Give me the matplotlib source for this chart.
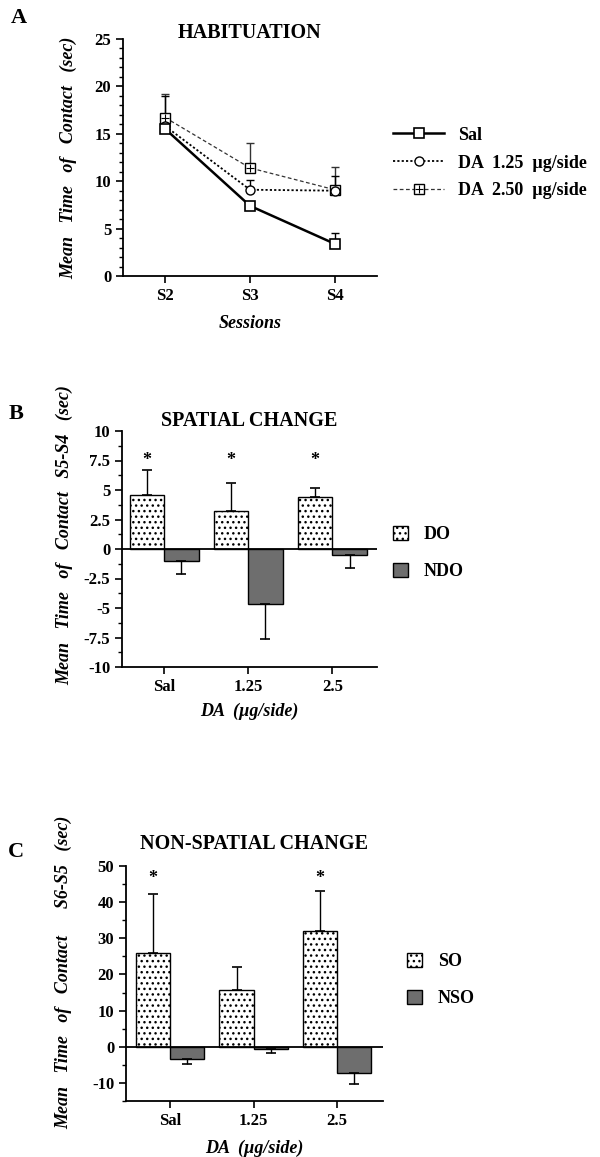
import numpy as np
import matplotlib
matplotlib.use("Agg")
import matplotlib.pyplot as plt
from matplotlib.patches import Patch
from matplotlib.legend_handler import HandlerTuple
from matplotlib.ticker import MultipleLocator, FuncFormatter

plt.rcParams['font.family'] = ['Liberation Serif', 'DejaVu Serif']
plt.rcParams['font.weight'] = 'bold'
plt.rcParams['hatch.linewidth'] = 1.0
plt.rcParams['axes.unicode_minus'] = False

# --- Panel A: habituation ---
sessions = ["S2", "S3", "S4"]
sal_mean = [15.5, 7.4, 3.4]
sal_err = [0.0, 0.0, 1.1]
da125_mean = [15.8, 9.1, 9.0]
da125_err = [3.2, 1.0, 1.6]
da250_mean = [16.7, 11.4, 9.1]
da250_err = [2.5, 2.6, 2.4]

# --- Panel B: spatial change (S5-S4) ---
doses = ["Sal", "1.25", "2.5"]
do_mean = [4.6, 3.2, 4.4]
do_err = [2.1, 2.4, 0.8]
ndo_mean = [-1.0, -4.7, -0.5]
ndo_err = [1.1, 2.9, 1.1]
b_stars = [True, True, True]

# --- Panel C: non-spatial change (S6-S5) ---
so_mean = [26.0, 15.8, 32.0]
so_err = [16.2, 6.4, 11.2]
nso_mean = [-3.5, -0.6, -7.3]
nso_err = [1.3, 1.0, 3.0]
c_stars = [True, False, True]

W, H = 600, 1157
fig = plt.figure(figsize=(W / 100, H / 100), dpi=100)

def fx(px):
    return px / W

def fy(py):
    return 1 - py / H

tick_fs = 12
lab_fs = 13
title_fs = 14.5
leg_fs = 13
dark = '#6e6e6e'

def style_axes(ax):
    ax.spines['top'].set_visible(False)
    ax.spines['right'].set_visible(False)
    for s in ['left', 'bottom']:
        ax.spines[s].set_linewidth(1.3)
    ax.tick_params(direction='out', length=5, width=1.2, labelsize=tick_fs)
    ax.tick_params(which='minor', direction='out', length=3, width=1.0)
    for lab in ax.get_xticklabels() + ax.get_yticklabels():
        lab.set_fontweight('bold')

# ---------------- Panel A ----------------
axA = fig.add_axes([fx(123), fy(276), fx(254), 237 / H])
x = np.arange(1, len(sessions) + 1)
ms = 6.5
axA.errorbar(x, da250_mean, yerr=[np.zeros(3), da250_err], color='#333333',
             ls='none', capsize=3, elinewidth=1.0, capthick=1.0, zorder=2)
axA.errorbar(x, da125_mean, yerr=[np.zeros(3), da125_err], color='black',
             ls='none', capsize=3, elinewidth=1.0, capthick=1.0, zorder=2)
axA.errorbar(x, sal_mean, yerr=[np.zeros(3), sal_err], color='black',
             ls='none', capsize=3, elinewidth=1.0, capthick=1.0, zorder=2)
l3, = axA.plot(x, da250_mean, color='#333333', ls=(0, (3, 2)), lw=0.9,
               marker='s', ms=ms, mfc='white', mec='black', mew=1.0, zorder=3)
l3p, = axA.plot(x, da250_mean, ls='none', marker='+', ms=ms - 0.5,
                mec='black', mew=0.8, zorder=4)
l2, = axA.plot(x, da125_mean, color='black', ls=(0, (1.2, 1.2)), lw=1.3,
               marker='o', ms=ms, mfc='white', mec='black', mew=1.0, zorder=5)
l1, = axA.plot(x, sal_mean, color='black', ls='-', lw=1.8,
               marker='s', ms=ms + 0.5, mfc='white', mec='black', mew=1.2, zorder=6)
axA.set_xlim(0.5, 3.5)
axA.set_ylim(0, 25)
axA.set_xticks(x)
axA.set_xticklabels(sessions)
axA.yaxis.set_major_locator(MultipleLocator(5))
axA.yaxis.set_minor_locator(MultipleLocator(1))
style_axes(axA)
axA.set_xlabel("Sessions", fontsize=lab_fs, fontstyle='italic', fontweight='bold', labelpad=8)
axA.set_ylabel("Mean   Time   of   Contact   (sec)", fontsize=lab_fs,
               fontstyle='italic', fontweight='bold')
axA.yaxis.set_label_coords(-0.18, 0.5)
axA.set_title("HABITUATION", fontsize=title_fs, fontweight='bold', y=1.0, pad=1)
axA.legend([l1, l2, (l3, l3p)],
           ["Sal", "DA  1.25  \u00b5g/side", "DA  2.50  \u00b5g/side"],
           handler_map={tuple: HandlerTuple(ndivide=1)},
           loc='center left', bbox_to_anchor=(fx(377), fy(163)),
           bbox_transform=fig.transFigure, frameon=False,
           handlelength=2.8, labelspacing=0.6, handletextpad=0.8,
           prop={'size': leg_fs, 'weight': 'bold'})

# ---------------- bar panels ----------------
def bar_panel(rect, pos_mean, pos_err, neg_mean, neg_err, stars, ylim,
              major, minor, ylabel, title, names, leg_xy, label_xy, xlim,
              star_y, title_pad, xlab_pad):
    ax = fig.add_axes(rect)
    xc = np.arange(len(doses))
    w = 0.41
    ax.bar(xc - w / 2, pos_mean, width=w, color='white', edgecolor='black',
           hatch='...', linewidth=1.0, zorder=2)
    ax.bar(xc + w / 2, neg_mean, width=w, color=dark, edgecolor='black',
           linewidth=1.0, zorder=2)
    ax.errorbar(xc - w / 2, pos_mean, yerr=[np.zeros(3), pos_err], ls='none',
                color='black', capsize=3.5, elinewidth=1.0, capthick=1.2, zorder=3)
    ax.errorbar(xc + w / 2, neg_mean, yerr=[neg_err, np.zeros(3)], ls='none',
                color='black', capsize=3.5, elinewidth=1.0, capthick=1.2, zorder=3)
    for i, s in enumerate(stars):
        if s:
            ax.text(xc[i] - w / 2, star_y, "*", ha='center', va='center',
                    fontsize=13, fontweight='bold')
    ax.axhline(0, color='black', lw=1.3, zorder=4)
    ax.set_xlim(*xlim)
    ax.set_ylim(*ylim)
    ax.set_xticks(xc)
    ax.set_xticklabels(doses)
    ax.yaxis.set_major_locator(MultipleLocator(major))
    ax.yaxis.set_minor_locator(MultipleLocator(minor))
    ax.yaxis.set_major_formatter(FuncFormatter(lambda v, p: f"{v:g}"))
    style_axes(ax)
    ax.set_xlabel("DA  (\u00b5g/side)", fontsize=lab_fs, fontstyle='italic',
                  fontweight='bold', labelpad=xlab_pad)
    ax.set_ylabel(ylabel, fontsize=lab_fs, fontstyle='italic', fontweight='bold')
    ax.yaxis.set_label_coords(*label_xy)
    ax.set_title(title, fontsize=title_fs, fontweight='bold', pad=title_pad)
    handles = [Patch(facecolor='white', edgecolor='black', hatch='...'),
               Patch(facecolor=dark, edgecolor='black')]
    ax.legend(handles, names, loc='center left', bbox_to_anchor=leg_xy,
              bbox_transform=fig.transFigure, frameon=False,
              handlelength=0.8, handleheight=0.8, labelspacing=1.1,
              handletextpad=0.9, prop={'size': leg_fs, 'weight': 'bold'})
    return ax

axB = bar_panel([fx(122), fy(667), fx(255), 236 / H], do_mean, do_err,
                ndo_mean, ndo_err, b_stars, (-10, 10), 2.5, 1.25,
                "Mean   Time   of   Contact   S5-S4   (sec)", "SPATIAL CHANGE",
                ["DO", "NDO"], (fx(377), fy(553)), (-0.19, 0.56),
                (-0.5, 2.53), 7.5, 2, 6)

axC = bar_panel([fx(126), fy(1101), fx(257), 235 / H], so_mean, so_err,
                nso_mean, nso_err, c_stars, (-15, 50), 10, 5,
                "Mean   Time   of   Contact      S6-S5   (sec)", "NON-SPATIAL CHANGE",
                ["SO", "NSO"], (fx(391), fy(980)), (-0.21, 0.549),
                (-0.53, 2.55), 46.5, 12, 8)
axC.set_yticks([-10, 0, 10, 20, 30, 40, 50])

# panel letters
for letter, px, py in [("A", 19, 18), ("B", 16, 414), ("C", 16, 852)]:
    fig.text(fx(px), fy(py), letter, fontsize=16, fontweight='bold',
             ha='center', va='center')

fig.savefig("out.png", dpi=100)
